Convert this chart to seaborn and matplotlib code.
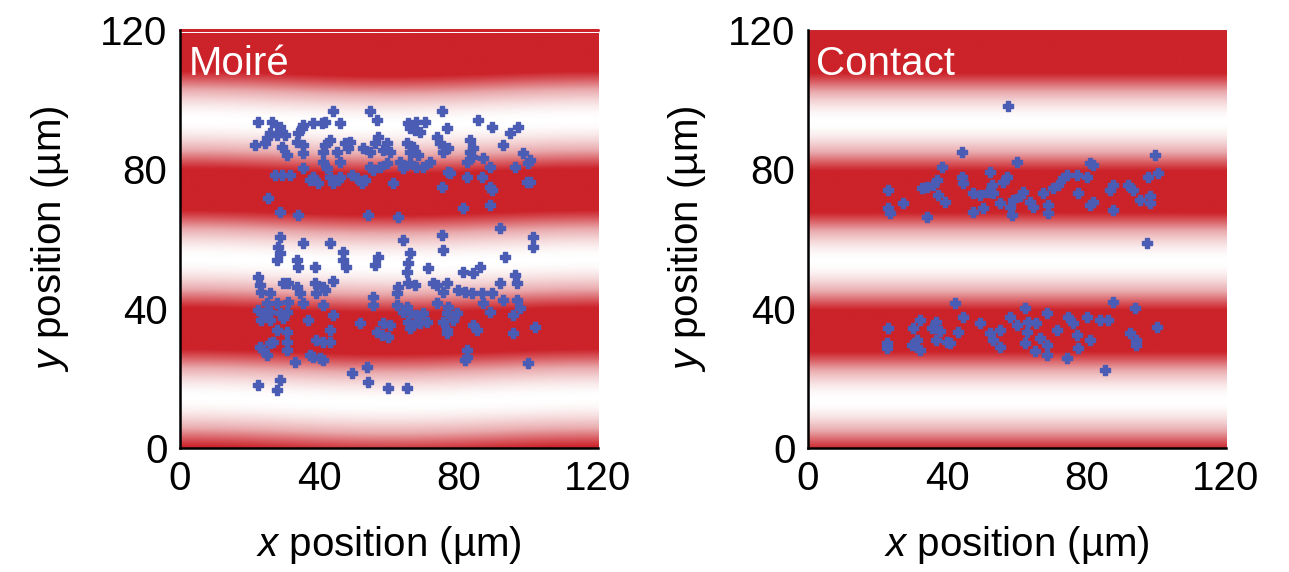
import numpy as np
import pandas as pd
import matplotlib
matplotlib.use("Agg")
import matplotlib.pyplot as plt
from matplotlib.colors import LinearSegmentedColormap
import seaborn as sns

# ---------------- data (µm) ----------------
moire_x = [44.0, 54.5, 75.1,
           22.5, 26.3, 28.7, 35.4, 38.3, 40.7, 41.6, 45.9, 56.5, 65.6, 67.9, 70.3, 85.6, 89.5, 97.1,
           25.8, 24.9, 27.8, 30.1, 34.0, 34.9, 66.0, 67.5, 68.9, 76.6, 94.7,
           21.5, 24.4, 29.2, 33.5, 35.4, 41.6, 43.1, 47.4, 48.8, 52.6, 56.0, 56.9, 59.3, 65.1, 67.0, 73.7, 74.6, 77.0, 83.3, 92.8,
           30.6, 35.4, 41.1, 45.0, 48.3, 54.5, 58.4, 60.3, 66.0, 68.4, 75.6, 83.3, 84.2, 98.6,
           41.1, 45.9, 54.5, 57.4, 59.3, 63.2, 66.0, 67.9, 71.8, 82.3, 83.7, 87.1, 96.2, 100.0,
           35.4, 42.1, 55.5, 64.1, 69.9, 77.0, 89.0, 100.5,
           27.3, 29.2, 31.6, 38.3, 43.1, 45.9, 49.3, 50.7, 53.1, 77.5, 82.3, 86.6,
           37.3, 39.7, 44.0, 45.5, 52.2, 61.2, 75.1, 89.0, 89.5, 99.5, 100.5,
           25.4, 28.7, 34.0, 54.1, 62.7, 81.3, 89.0, 91.9,
           28.7, 35.4, 43.1, 64.1, 75.1, 75.6, 101.4, 101.4,
           28.2, 28.7, 27.8, 33.5, 34.0, 38.8, 46.9, 46.9, 47.8, 56.9, 56.0, 66.0, 65.6, 65.1, 71.3, 93.3,
           22.5, 23.0, 29.7, 31.1, 33.5, 38.8, 41.1, 44.0, 62.7, 65.6, 67.5, 72.7, 73.7, 76.6, 81.3, 84.2, 86.1, 96.2, 96.7,
           23.4, 25.8, 34.4, 39.2, 41.6, 55.5, 62.2, 75.6, 79.9, 81.8, 83.7, 86.6, 89.5, 91.9,
           24.9, 27.8, 31.1, 35.4, 41.1, 55.5, 62.2, 65.1, 73.7, 77.0, 92.8, 96.7,
           22.5, 24.4, 25.8, 28.7, 30.6, 44.0, 64.1, 66.0, 67.9, 69.9, 76.6, 79.4, 87.1, 89.0, 95.7, 97.6,
           23.4, 25.8, 29.7, 36.8, 51.7, 58.4, 60.3, 65.6, 67.0, 68.9, 70.8, 75.6, 78.5, 84.2, 101.9,
           27.8, 30.6, 43.1, 56.5, 57.9, 59.8, 66.0, 76.6, 85.2, 95.7,
           23.0, 23.9, 25.8, 26.8, 30.6, 39.2, 41.1, 43.1, 76.6, 82.3,
           24.9, 30.6, 37.3, 38.3, 40.2, 41.1, 33.0, 82.3, 81.8, 100.0,
           53.6, 49.3, 54.1, 28.7, 22.5, 27.8, 59.8, 65.1]
moire_y = [96.6, 96.6, 96.6,
           93.7, 93.7, 92.2, 92.7, 93.2, 93.2, 93.7, 93.2, 94.2, 93.2, 93.7, 93.7, 94.2, 92.2, 92.2,
           90.3, 88.9, 89.9, 89.9, 90.3, 91.8, 91.8, 91.3, 90.8, 91.8, 90.3,
           87.0, 87.5, 86.5, 87.9, 87.0, 87.0, 88.4, 87.5, 87.9, 86.0, 87.5, 89.4, 87.5, 87.5, 86.5, 89.4, 87.5, 86.0, 88.4, 87.0,
           84.1, 84.6, 85.1, 85.1, 86.0, 85.1, 85.6, 85.1, 85.1, 84.1, 85.1, 85.1, 86.0, 84.6,
           82.2, 82.2, 80.8, 80.8, 81.7, 82.2, 81.7, 80.8, 82.2, 82.2, 83.6, 83.2, 80.8, 81.7,
           80.3, 80.3, 79.8, 80.3, 80.8, 79.3, 80.8, 82.7,
           78.4, 78.4, 78.4, 77.9, 77.9, 77.9, 78.4, 77.4, 76.9, 78.9, 77.9, 77.9,
           76.9, 76.0, 76.0, 76.9, 76.0, 76.0, 75.0, 75.0, 74.1, 76.5, 76.5,
           71.7, 67.8, 66.9, 66.9, 66.4, 68.8, 69.8, 63.1,
           60.7, 58.8, 58.8, 59.7, 61.1, 56.8, 60.7, 57.8,
           57.8, 55.9, 54.0, 54.0, 52.1, 52.1, 56.4, 54.0, 52.1, 54.9, 52.5, 55.9, 53.0, 50.6, 51.6, 54.9,
           49.2, 46.8, 47.3, 47.3, 46.3, 47.3, 46.3, 47.8, 46.3, 47.3, 46.8, 47.3, 46.8, 47.3, 50.6, 50.1, 52.1, 49.7, 47.3,
           44.9, 44.4, 44.4, 44.4, 45.4, 43.4, 44.4, 44.9, 45.4, 44.9, 44.4, 44.4, 44.4, 47.3,
           41.5, 41.5, 42.0, 41.5, 41.1, 41.1, 41.1, 40.6, 41.5, 40.6, 42.5, 42.5,
           39.6, 38.7, 39.1, 38.7, 39.1, 38.2, 39.1, 38.7, 38.2, 38.7, 38.7, 38.7, 41.5, 39.1, 38.2, 40.1,
           36.7, 36.7, 37.2, 36.7, 35.8, 35.8, 35.3, 36.3, 35.3, 35.8, 36.3, 36.3, 36.7, 35.3, 34.8,
           33.9, 33.4, 33.9, 33.4, 32.4, 32.0, 34.4, 33.9, 33.9, 32.9,
           29.1, 28.1, 30.0, 30.5, 30.5, 31.0, 30.5, 30.5, 32.9, 28.1,
           26.7, 28.1, 26.7, 26.2, 25.7, 25.3, 24.8, 26.2, 25.3, 24.3,
           23.3, 21.4, 19.0, 19.5, 18.1, 16.7, 17.1, 17.1]

contact_x = [57.5, 44.3, 99.6, 59.9, 38.4, 81.0, 81.9, 52.2, 97.7, 100.6, 44.1, 44.6, 37.0, 36.0,
             57.0, 56.1, 74.3, 73.3, 77.1, 80.0, 32.6, 34.1, 23.1, 87.7, 92.0, 93.4, 52.7, 51.8, 53.2,
             47.5, 49.4, 61.8, 60.9, 67.6, 70.4, 71.9, 77.6, 86.7, 37.4, 39.3, 27.4, 55.1, 59.0, 58.0,
             63.7, 64.7, 69.0, 81.9, 81.0, 95.3, 98.2, 98.2, 23.1, 23.5, 50.3, 47.5, 69.0, 87.7, 34.1,
             58.5, 97.2,
             42.2, 87.7, 93.9, 62.3, 44.6, 58.0, 68.6, 74.7, 80.0, 32.2, 36.9, 83.8, 86.2,
             23.1, 30.3, 35.5, 49.4, 59.9, 63.2, 65.6, 76.2, 100.1,
             37.9, 43.2, 52.2, 55.1, 62.8, 71.4, 77.1, 92.4,
             31.2, 36.9, 39.8, 53.2, 66.6, 81.0, 94.3,
             22.6, 29.8, 40.8, 62.3, 68.5, 94.3,
             32.2, 55.1, 65.2, 68.5, 77.6, 74.3, 85.3, 22.6]
contact_y = [98.2, 84.9, 84.1, 82.2, 80.8, 81.7, 81.2, 79.3, 77.9, 78.9, 77.9, 76.0, 76.9, 75.5,
             77.9, 76.5, 78.4, 77.4, 78.4, 77.9, 74.5, 75.0, 74.1, 75.5, 75.5, 74.1, 75.5, 73.6, 73.1,
             73.1, 72.6, 73.6, 72.2, 73.1, 74.5, 75.5, 73.1, 74.1, 72.6, 70.7, 70.2, 70.2, 71.2, 69.3,
             70.7, 69.3, 69.8, 70.7, 69.8, 71.2, 70.2, 72.2, 68.8, 67.4, 68.8, 67.8, 67.4, 68.3, 66.4,
             66.9, 58.8,
             41.5, 42.0, 40.1, 40.1, 37.7, 37.7, 38.7, 37.7, 37.7, 36.7, 36.3, 36.7, 36.7,
             34.4, 34.4, 34.4, 35.8, 35.3, 36.3, 35.8, 35.8, 34.8,
             33.7, 33.4, 32.9, 33.9, 33.4, 33.9, 32.4, 32.9,
             31.0, 31.0, 30.5, 31.0, 31.5, 31.0, 31.0,
             30.0, 29.6, 30.0, 30.0, 29.6, 29.6,
             28.1, 29.1, 27.7, 26.7, 28.6, 25.7, 22.4, 28.6]

panel_titles = ["Moiré", "Contact"]
tick_values = [0, 40, 80, 120]

# fringe pattern parameters (µm)
fringe_period = 40.0
fringe_red_center = 73.5
moire_bow = 0.7

RED = "#CC2229"
BLUE = "#4A5CB4"

# ---------------- style ----------------
sns.set_theme(style="white")
plt.rcParams["font.family"] = ["Liberation Sans", "DejaVu Sans"]
plt.rcParams["mathtext.fontset"] = "custom"
plt.rcParams["mathtext.it"] = "Liberation Sans:italic"
plt.rcParams["mathtext.rm"] = "Liberation Sans"

cmap = LinearSegmentedColormap.from_list("wr", ["#FFFFFF", "#E9A9AC", RED], N=256)

fig = plt.figure(figsize=(12.89, 5.72), dpi=100)
ax1 = fig.add_axes([0.1396, 0.2168, 0.3243, 0.7308])
ax2 = fig.add_axes([0.6268, 0.2168, 0.3243, 0.7308])


def fringe(xx, yy, bow):
    d = yy - fringe_red_center - bow * np.cos(2 * np.pi * xx / 120.0)
    f = np.cos(np.pi * d / fringe_period) ** 2
    return np.clip(f / 0.8, 0, 1)


def draw_panel(ax, xs, ys, title, bow, top):
    gx = np.linspace(0, 120, 60)
    gy = np.linspace(0, top, 300)
    XX, YY = np.meshgrid(gx, gy)
    img = fringe(XX, YY, bow)
    ax.imshow(img, extent=[0, 120, 0, top], origin="lower", cmap=cmap,
              vmin=0, vmax=1, aspect="auto", interpolation="bilinear", zorder=0)
    df = pd.DataFrame({"x": xs, "y": ys})
    sns.scatterplot(data=df, x="x", y="y", ax=ax, marker="P", s=46,
                    color=BLUE, edgecolor=BLUE, linewidth=1.0, zorder=3)
    ax.set_xlim(0, 120)
    ax.set_ylim(0, 120)
    ax.set_xticks(tick_values)
    ax.set_yticks(tick_values)
    ax.tick_params(direction="in", length=4, width=1.5, color="black",
                   labelsize=29, pad=9, labelcolor="black")
    for s in ["top", "right"]:
        ax.spines[s].set_visible(False)
    for s in ["left", "bottom"]:
        ax.spines[s].set_visible(True)
        ax.spines[s].set_color("black")
        ax.spines[s].set_linewidth(1.8)
    ax.set_xlabel(r"$\mathit{x}$ position (µm)", fontsize=29, color="black")
    ax.set_ylabel(r"$\mathit{y}$ position (µm)", fontsize=29, color="black")
    ax.text(0.02, 0.965, title, transform=ax.transAxes, color="white",
            fontsize=29, ha="left", va="top", zorder=4)
    ax.grid(False)


draw_panel(ax1, moire_x, moire_y, panel_titles[0], moire_bow, 119.0)
ax1.axhline(120, color=RED, lw=2.2, clip_on=False, zorder=1)
draw_panel(ax2, contact_x, contact_y, panel_titles[1], 0.0, 120.0)

for ax, ylx in [(ax1, -0.312), (ax2, -0.29)]:
    ax.xaxis.set_label_coords(0.5, -0.232)
    ax.xaxis.label.set_va("center")
    ax.yaxis.set_label_coords(ylx, 0.5)
    ax.yaxis.label.set_va("center")

fig.savefig("out.png", dpi=100)
